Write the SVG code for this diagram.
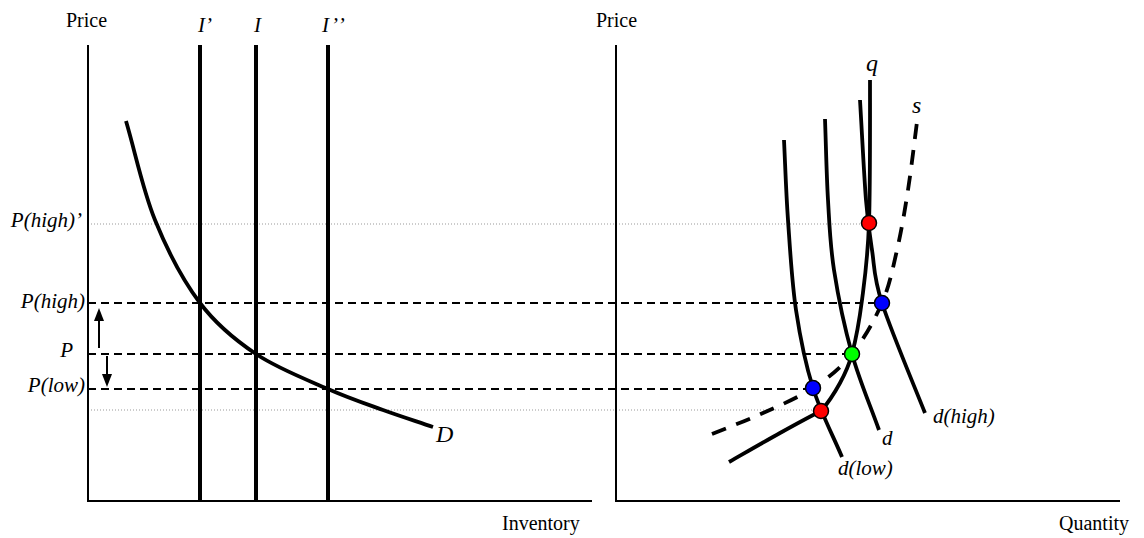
<svg xmlns="http://www.w3.org/2000/svg" width="1144" height="538" viewBox="0 0 1144 538">
<style>
text{font-family:"Liberation Serif","Times New Roman",serif;fill:#000}
.lab{font-size:20px}
.it{font-size:21px;font-style:italic}
.axis{stroke:#000;stroke-width:2;fill:none}
.vline{stroke:#000;stroke-width:4;fill:none}
.curve{stroke:#000;stroke-width:3.8;fill:none;stroke-linecap:butt}
.dash{stroke:#000;stroke-width:2;stroke-dasharray:8 5;fill:none}
.dot{stroke:#999;stroke-width:1;stroke-dasharray:1 2;fill:none}
.sdash{stroke:#000;stroke-width:3.8;stroke-dasharray:15 11;fill:none}
.pt{stroke:#000;stroke-width:1.5}
</style>
<rect width="1144" height="538" fill="#fff"/>
<g id="guides">
<line class="dot" x1="88" y1="224" x2="869" y2="224"/>
<line class="dot" x1="88" y1="410" x2="821" y2="410"/>
<line class="dash" x1="88" y1="303" x2="882" y2="303"/>
<line class="dash" x1="88" y1="354" x2="852" y2="354"/>
<line class="dash" x1="88" y1="389" x2="813" y2="389"/>
</g>
<g id="left-axes">
<line class="axis" x1="88" y1="45" x2="88" y2="501"/>
<line class="axis" x1="87" y1="501" x2="592" y2="501"/>
<text class="lab" x="66" y="27">Price</text>
<text class="lab" x="502" y="530">Inventory</text>
</g>
<g id="right-axes">
<line class="axis" x1="616" y1="45" x2="616" y2="501"/>
<line class="axis" x1="615" y1="501" x2="1120" y2="501"/>
<text class="lab" x="596" y="27">Price</text>
<text class="lab" x="1059" y="530">Quantity</text>
</g>
<g id="inventory-lines">
<line class="vline" x1="200" y1="45" x2="200" y2="501"/>
<line class="vline" x1="256" y1="45" x2="256" y2="501"/>
<line class="vline" x1="328" y1="45" x2="328" y2="501"/>
<text class="it" x="198" y="32">I’</text>
<text class="it" x="254" y="32">I</text>
<text class="it" x="322" y="32" letter-spacing="2">I’’</text>
</g>
<g id="demand-D">
<path class="curve" d="M126,121 C135.7,154 142.7,189.7 155,220 C167.3,250.3 183.2,280.7 200,303 C216.8,325.3 234.7,339.7 256,354 C277.3,368.3 306.8,379.7 328,389 C349.2,398.3 365.5,403.7 383,410 C400.5,416.3 416.3,421.3 433,427"/>
<text class="it" x="436" y="442" style="font-size:24px">D</text>
</g>
<g id="price-labels">
<text class="it" x="82" y="227" text-anchor="end">P(high)’</text>
<text class="it" x="85" y="308" text-anchor="end">P(high)</text>
<text class="it" x="73" y="357" text-anchor="end">P</text>
<text class="it" x="85" y="392" text-anchor="end">P(low)</text>
</g>
<g id="arrows">
<line x1="99" y1="348" x2="99" y2="319" stroke="#000" stroke-width="2"/>
<polygon points="99,308 94,321 104,321" fill="#000"/>
<line x1="107" y1="356" x2="107" y2="376" stroke="#000" stroke-width="2"/>
<polygon points="107,387 102,374 112,374" fill="#000"/>
</g>
<g id="connectors">
<path id="curve-s" class="sdash" d="M712,434 C729,427 746.2,420.7 763,413 C779.8,405.3 798.2,397.8 813,388 C827.8,378.2 840.5,368.2 852,354 C863.5,339.8 874.5,320.3 882,303 C889.5,285.7 892.7,268.8 897,250 C901.3,231.2 904.7,211.3 908,190 C911.3,168.7 914,144.7 917,122"/>
<path id="curve-dlow" class="curve" d="M784,140 C785.3,166.7 786,191.7 788,220 C790,248.3 791.8,282 796,310 C800.2,338 805.3,363.5 813,388 C820.7,412.5 832.3,434 842,457"/>
<path id="curve-d" class="curve" d="M825,119 C826,146 826.5,174.8 828,200 C829.5,225.2 830,244.3 834,270 C838,295.7 844.5,327.3 852,354 C859.5,380.7 870,404.7 879,430"/>
<path id="curve-dhigh" class="curve" d="M860,100 C862,133.3 864,175 866,200 C868,225 869.3,232.8 872,250 C874.7,267.2 873.2,275.8 882,303 C890.8,330.2 911.7,379.7 925,413"/>
<path id="curve-q" class="curve" d="M729,462 C746,452.3 764.7,441.5 780,433 C795.3,424.5 808,417.5 821,411 C828,403 834.8,392.5 840,383 C845.2,373.5 848.3,367.8 852,354 C855.7,340.2 859.2,321.8 862,300 C864.8,278.2 867.7,259.7 869,223 C870.3,186.3 870,127.7 870,80"/>
</g>
<g id="curve-labels">
<text class="it" x="866" y="71" style="font-size:24px">q</text>
<text class="it" x="912" y="113" style="font-size:24px">s</text>
<text class="it" x="933" y="423">d(high)</text>
<text class="it" x="882" y="445">d</text>
<text class="it" x="838" y="475">d(low)</text>
</g>
<g id="points">
<circle class="pt" cx="869" cy="223" r="7.5" fill="#ff0000"/>
<circle class="pt" cx="882" cy="303" r="7.5" fill="#0000ff"/>
<circle class="pt" cx="852" cy="354" r="7.5" fill="#00ff00"/>
<circle class="pt" cx="813" cy="388" r="7.5" fill="#0000ff"/>
<circle class="pt" cx="821" cy="411" r="7.5" fill="#ff0000"/>
</g>
</svg>
